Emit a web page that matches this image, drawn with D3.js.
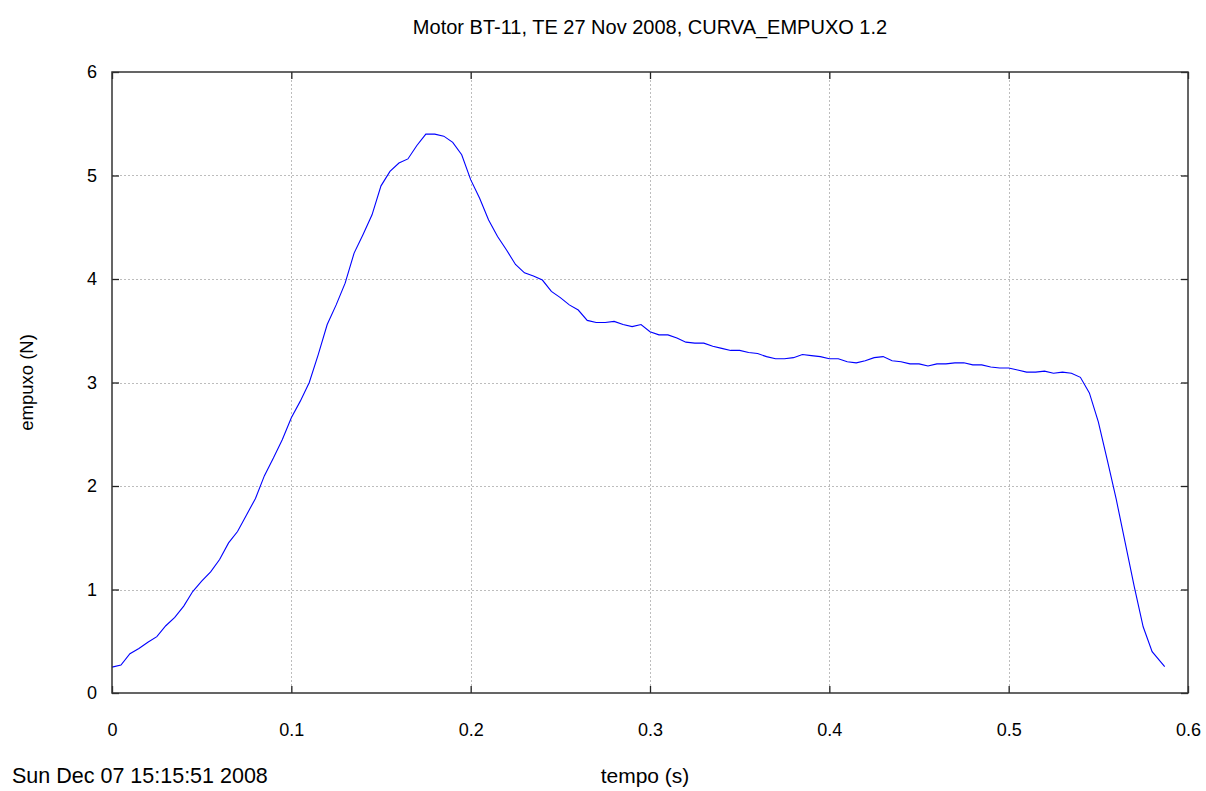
<!DOCTYPE html>
<html>
<head>
<meta charset="utf-8">
<script src="https://cdn.jsdelivr.net/npm/d3@7"></script>
<style>
	body { margin: 0; background: #fff; }
	text { font-family: Arial, "Liberation Sans", sans-serif; fill: #000; }
</style>
</head>
<body>
<div class="chart"></div>
<script>
// thrust curve (time in s, thrust in N)
var tempo = [0.000, 0.005, 0.010, 0.015, 0.020, 0.025, 0.030, 0.035, 0.040, 0.045,
	0.050, 0.055, 0.060, 0.065, 0.070, 0.075, 0.080, 0.085, 0.090, 0.095,
	0.100, 0.105, 0.110, 0.115, 0.120, 0.125, 0.130, 0.135, 0.140, 0.145,
	0.150, 0.155, 0.160, 0.165, 0.170, 0.175, 0.180, 0.185, 0.190, 0.195,
	0.200, 0.205, 0.210, 0.215, 0.220, 0.225, 0.230, 0.235, 0.240, 0.245,
	0.250, 0.255, 0.260, 0.265, 0.270, 0.275, 0.280, 0.285, 0.290, 0.295,
	0.300, 0.305, 0.310, 0.315, 0.320, 0.325, 0.330, 0.335, 0.340, 0.345,
	0.350, 0.355, 0.360, 0.365, 0.370, 0.375, 0.380, 0.385, 0.390, 0.395,
	0.400, 0.405, 0.410, 0.415, 0.420, 0.425, 0.430, 0.435, 0.440, 0.445,
	0.450, 0.455, 0.460, 0.465, 0.470, 0.475, 0.480, 0.485, 0.490, 0.495,
	0.500, 0.505, 0.510, 0.515, 0.520, 0.525, 0.530, 0.535, 0.540, 0.545,
	0.550, 0.555, 0.560, 0.565, 0.570, 0.575, 0.580, 0.587];

var empuxo = [0.25, 0.27, 0.38, 0.43, 0.49, 0.545, 0.65, 0.73, 0.84, 0.98,
	1.08, 1.17, 1.29, 1.45, 1.56, 1.72, 1.88, 2.10, 2.27, 2.45,
	2.66, 2.82, 3.00, 3.27, 3.56, 3.75, 3.96, 4.25, 4.43, 4.62,
	4.90, 5.04, 5.12, 5.16, 5.29, 5.40, 5.40, 5.38, 5.32, 5.20,
	4.96, 4.78, 4.57, 4.41, 4.28, 4.14, 4.06, 4.03, 3.99, 3.88,
	3.82, 3.75, 3.70, 3.60, 3.58, 3.58, 3.59, 3.56, 3.54, 3.56,
	3.49, 3.46, 3.46, 3.43, 3.39, 3.38, 3.38, 3.35, 3.33, 3.31,
	3.31, 3.29, 3.28, 3.25, 3.23, 3.23, 3.24, 3.27, 3.26, 3.25,
	3.23, 3.23, 3.20, 3.19, 3.21, 3.24, 3.25, 3.21, 3.20, 3.18,
	3.18, 3.16, 3.18, 3.18, 3.19, 3.19, 3.17, 3.17, 3.15, 3.14,
	3.14, 3.12, 3.10, 3.10, 3.11, 3.09, 3.10, 3.09, 3.05, 2.90,
	2.62, 2.25, 1.87, 1.45, 1.03, 0.64, 0.40, 0.254];

var xTicks = [0, 0.1, 0.2, 0.3, 0.4, 0.5, 0.6],
	yTicks = [0, 1, 2, 3, 4, 5, 6];

var titulo = "Motor BT-11, TE 27 Nov 2008, CURVA_EMPUXO 1.2",
	dataHora = "Sun Dec 07 15:15:51 2008";

// sizes
var width = 1206,
	height = 791;
var margin = {top: 72, right: 18, bottom: 98, left: 112};
var w = width - margin.left - margin.right,
	h = height - margin.top - margin.bottom;

var svg = d3.select(".chart").append("svg")
	.attr("width", width)
	.attr("height", height);

var x = d3.scaleLinear().domain([0, 0.6]).range([0, w]);
var y = d3.scaleLinear().domain([0, 6]).range([h, 0]);

var g = svg.append("g")
	.attr("transform", "translate(" + margin.left + "," + margin.top + ")");

// grid
g.selectAll(".gx")
	.data(xTicks.slice(1, -1)).enter()
	.append("line")
	.attr("x1", function(d) { return Math.round(x(d)) + 0.5; })
	.attr("x2", function(d) { return Math.round(x(d)) + 0.5; })
	.attr("y1", 0).attr("y2", h)
	.attr("stroke", "#bdbdbd")
	.attr("stroke-dasharray", "2,2");

g.selectAll(".gy")
	.data(yTicks.slice(1, -1)).enter()
	.append("line")
	.attr("y1", function(d) { return Math.round(y(d)) + 0.5; })
	.attr("y2", function(d) { return Math.round(y(d)) + 0.5; })
	.attr("x1", 0).attr("x2", w)
	.attr("stroke", "#bdbdbd")
	.attr("stroke-dasharray", "2,2");

// curve
var data = tempo.map(function(t, i) { return [t, empuxo[i]]; });
var line = d3.line()
	.x(function(d) { return x(d[0]); })
	.y(function(d) { return y(d[1]); });

g.append("path")
	.datum(data)
	.attr("fill", "none")
	.attr("stroke", "#0000ff")
	.attr("stroke-width", 1.1)
	.attr("d", line);

// axes, ticks inside on all four sides
var axBottom = d3.axisBottom(x).tickValues(xTicks).tickSizeInner(-7).tickSizeOuter(0).tickPadding(30)
	.tickFormat(d3.format("~g"));
var axTop = d3.axisTop(x).tickValues(xTicks).tickSizeInner(-7).tickSizeOuter(0).tickFormat("");
var axLeft = d3.axisLeft(y).tickValues(yTicks).tickSizeInner(-7).tickSizeOuter(0).tickPadding(15)
	.tickFormat(d3.format("d"));
var axRight = d3.axisRight(y).tickValues(yTicks).tickSizeInner(-7).tickSizeOuter(0).tickFormat("");

g.append("g").attr("transform", "translate(0," + h + ")").call(axBottom);
g.append("g").call(axTop);
g.append("g").call(axLeft);
g.append("g").attr("transform", "translate(" + w + ",0)").call(axRight);

g.selectAll(".domain").remove();
g.selectAll(".tick line").attr("stroke", "#222").attr("stroke-width", 1.3);
g.selectAll(".tick text").attr("font-size", 18).attr("fill", "#000")
	.attr("font-family", "Arial, 'Liberation Sans', sans-serif");

// frame
g.append("rect")
	.attr("x", 0).attr("y", 0)
	.attr("width", w).attr("height", h)
	.attr("fill", "none")
	.attr("stroke", "#333")
	.attr("stroke-width", 1.5);

// texts
svg.append("text")
	.attr("x", margin.left + w / 2)
	.attr("y", 34)
	.attr("text-anchor", "middle")
	.attr("font-size", 20)
	.text(titulo);

svg.append("text")
	.attr("x", 645)
	.attr("y", 783)
	.attr("text-anchor", "middle")
	.attr("font-size", 21)
	.text("tempo (s)");

svg.append("text")
	.attr("x", 12)
	.attr("y", 783)
	.attr("font-size", 21.5)
	.text(dataHora);

svg.append("text")
	.attr("transform", "translate(33," + (margin.top + h / 2) + ") rotate(-90)")
	.attr("text-anchor", "middle")
	.attr("font-size", 18.5)
	.text("empuxo (N)");
</script>
</body>
</html>
